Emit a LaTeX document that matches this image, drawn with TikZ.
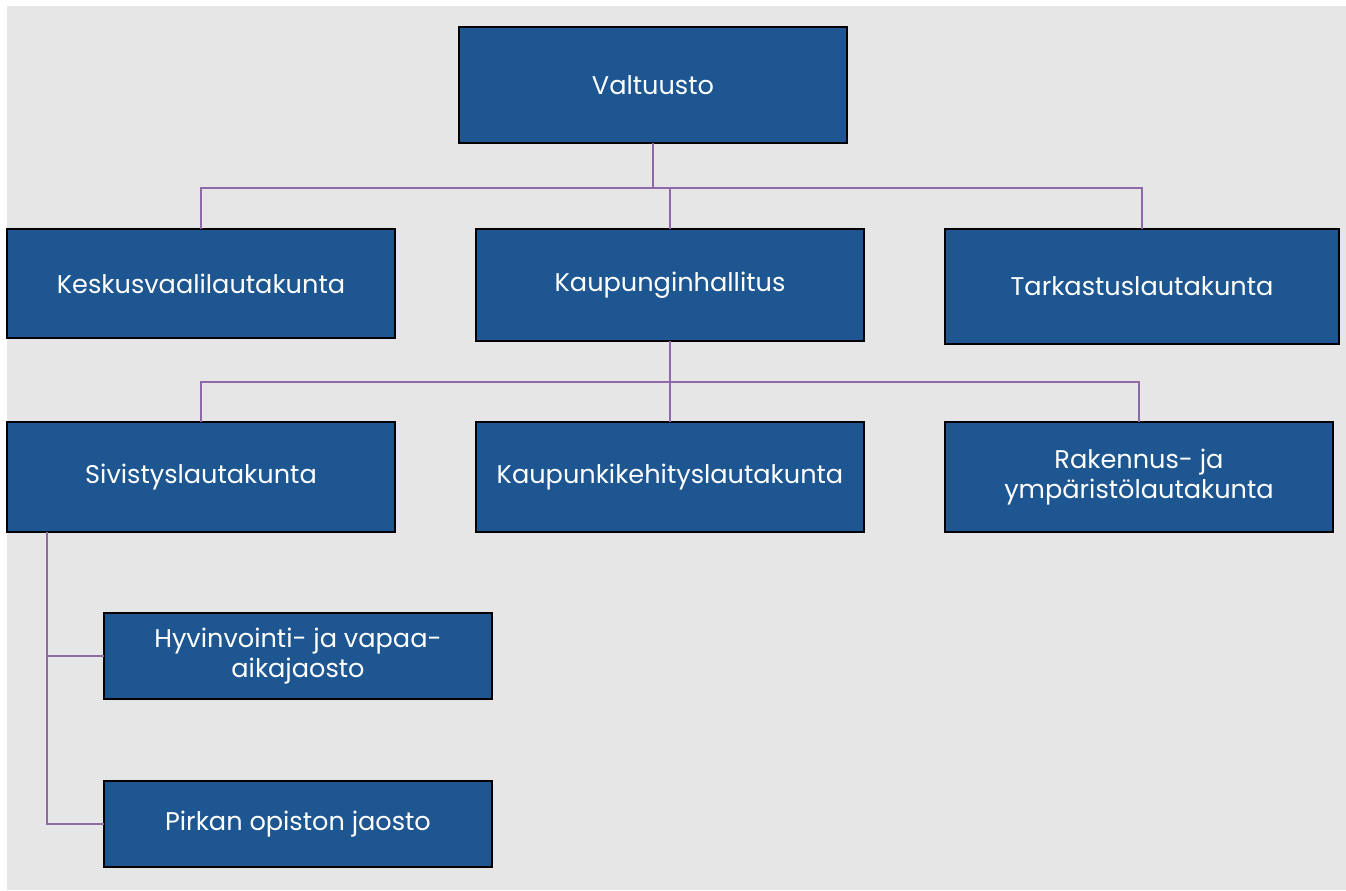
\documentclass[tikz,border=0pt]{standalone}
\usepackage{fontspec}
\setmainfont{Poppins}
\usetikzlibrary{positioning}
\definecolor{boxblue}{HTML}{1D5690}
\definecolor{linkpurple}{HTML}{8E6BA8}
\definecolor{bggray}{HTML}{E6E6E6}

\begin{document}
\begin{tikzpicture}[x=0.75pt,y=-0.75pt,
		unit/.style={draw=black,line width=1.6pt,fill=boxblue,text=white,
			anchor=north west,inner sep=0pt,outer sep=0pt,minimum width=291pt,align=center,
			font=\fontsize{19.2}{22.5}\selectfont},
		link/.style={linkpurple,line width=1.8pt}]
		\newcommand{\unitbox}[5]{\node[unit,minimum height=#4*0.75pt] (#1) at (#2,#3) {#5};}

		\useasboundingbox (0,0) rectangle (1346,890);
		\fill[bggray] (7,6) rectangle (1346,890);

		% top
		\unitbox{valt}{459}{27}{116}{Valtuusto}
		% first level
		\unitbox{kesk}{7}{229}{109}{Keskusvaalilautakunta}
		\unitbox{kaup}{476}{229}{112}{Kaupunginhallitus}
		\node[unit,minimum width=295.5pt,minimum height=86.25pt] (tark) at (945,229) {Tarkastuslautakunta};
		% second level
		\unitbox{sivi}{7}{422}{110}{Sivistyslautakunta}
		\unitbox{kehi}{476}{422}{110}{Kaupunkikehityslautakunta}
		\unitbox{rake}{945}{422}{110}{Rakennus- ja\\ympäristölautakunta}
		% jaostot
		\unitbox{hyvi}{104}{613}{86}{Hyvinvointi- ja vapaa-\\aikajaosto}
		\unitbox{pirk}{104}{781}{86}{Pirkan opiston jaosto}

		\coordinate (b1) at (0,188);
		\coordinate (b2) at (0,382);
		\coordinate (b3) at (47,532);

		\draw[link] (valt.south) -- (valt.south |- b1);
		\draw[link] (kesk.north) |- (b1 -| valt.south) -| (tark.north);
		\draw[link] (b1 -| kaup.north) -- (kaup.north);

		\draw[link] (kaup.south) -- (kaup.south |- b2);
		\draw[link] (sivi.north) |- (b2 -| kaup.south) -| (rake.north);
		\draw[link] (b2 -| kehi.north) -- (kehi.north);

		\draw[link] (b3) |- (pirk.west);
		\draw[link] (b3 |- hyvi.west) -- (hyvi.west);
	\end{tikzpicture}
\end{document}
